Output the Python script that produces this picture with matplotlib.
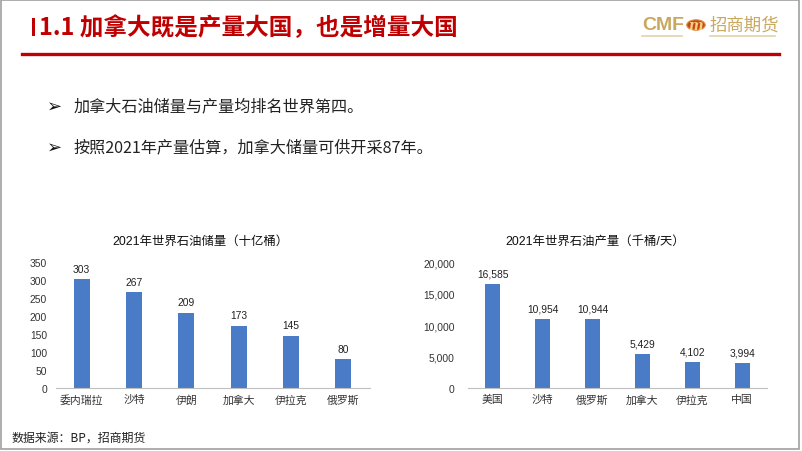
import matplotlib
matplotlib.use("Agg")
import matplotlib.pyplot as plt
from matplotlib.patches import Rectangle, Circle
from matplotlib.lines import Line2D

# ---- data ----
reserve_cats = ["委内瑞拉", "沙特", "伊朗", "加拿大", "伊拉克", "俄罗斯"]
reserve_vals = [303, 267, 209, 173, 145, 80]
reserve_ticks = [0, 50, 100, 150, 200, 250, 300, 350]

prod_cats = ["美国", "沙特", "俄罗斯", "加拿大", "伊拉克", "中国"]
prod_vals = [16585, 10954, 10944, 5429, 4102, 3994]
prod_ticks = [0, 5000, 10000, 15000, 20000]

title_text = "1.1 加拿大既是产量大国，也是增量大国"
bullets = ["加拿大石油储量与产量均排名世界第四。",
           "按照2021年产量估算，加拿大储量可供开采87年。"]
chart1_title = "2021年世界石油储量（十亿桶）"
chart2_title = "2021年世界石油产量（千桶/天）"
source_text = "数据来源：BP，招商期货"

W, H = 802, 452
CJK = ["Noto Sans CJK SC", "DejaVu Sans"]
NUM = ["Liberation Sans", "Noto Sans CJK SC", "DejaVu Sans"]
RED = "#C00000"
GOLD = "#C9A85F"
BAR = "#4A7BC6"

fig = plt.figure(figsize=(W / 100, H / 100), dpi=100)
fig.patch.set_facecolor("white")


def fx(x):
    return x / W


def fy(y):
    return 1 - y / H


# slide border
fig.add_artist(Rectangle((fx(1), fy(450)), fx(799) - fx(1), fy(1) - fy(450),
                         transform=fig.transFigure, fill=False,
                         edgecolor="#A0A0A0", linewidth=1.2))

# title bar + text
fig.add_artist(Rectangle((fx(32), fy(37)), fx(35) - fx(32), fy(19) - fy(37),
                         transform=fig.transFigure, facecolor=RED, edgecolor="none"))
fig.text(fx(39), fy(28), title_text, family=CJK, fontsize=17, fontweight="bold",
         color=RED, ha="left", va="center")
# red rule
fig.add_artist(Line2D([fx(22), fx(779)], [fy(55), fy(55)], transform=fig.transFigure,
                      color=RED, linewidth=2.4))

# logo
fig.text(fx(642), fy(26), "CMF", family=["Liberation Sans"], fontsize=14,
         fontweight="bold", color=GOLD, ha="left", va="center")
fig.add_artist(Circle((fx(696), fy(26)), 0.0115, transform=fig.transFigure,
                      facecolor="#C8461E", edgecolor="#E08A3C", linewidth=0.8))
fig.text(fx(696), fy(26.5), "m", family=["DejaVu Serif"], fontsize=10, fontstyle="italic",
         fontweight="bold", color="#F3D27A", ha="center", va="center")
fig.text(fx(710), fy(26), "招商期货", family=CJK, fontsize=12.5, color=GOLD,
         ha="left", va="center")
fig.add_artist(Line2D([fx(642), fx(682)], [fy(37), fy(37)], transform=fig.transFigure,
                      color="#E2D3AE", linewidth=1.2))
fig.add_artist(Line2D([fx(710), fx(775)], [fy(37), fy(37)], transform=fig.transFigure,
                      color="#E2D3AE", linewidth=1.2))

# bullets
for i, b in enumerate(bullets):
    yy = 107 + i * 41
    fig.text(fx(47), fy(yy), "➢", family=["DejaVu Sans"], fontsize=13,
             color="#111111", ha="left", va="center")
    fig.text(fx(74), fy(yy), b, family=CJK, fontsize=11.6, color="#222222",
             ha="left", va="center")

# source
fig.text(fx(12), fy(438), source_text, family=CJK, fontsize=8.6, color="#222222",
         ha="left", va="center")


def bar_chart(rect, cats, vals, ticks, fmt, pad, title, title_x):
    ax = fig.add_axes(rect)
    x = list(range(len(cats)))
    ax.bar(x, vals, width=0.3, color=BAR, zorder=2)
    ax.set_xlim(-0.5, len(cats) - 0.5)
    ax.set_ylim(ticks[0], ticks[-1])
    ax.set_yticks(ticks)
    ax.set_yticklabels([fmt(t) for t in ticks], family=NUM, fontsize=7.4, color="#333333")
    ax.set_xticks(x)
    ax.set_xticklabels(cats, family=CJK, fontsize=7.8, color="#333333")
    ax.tick_params(axis="y", length=0, pad=pad)
    ax.tick_params(axis="x", length=0, pad=4.5)
    for s in ["top", "right", "left"]:
        ax.spines[s].set_visible(False)
    ax.spines["bottom"].set_color("#BFBFBF")
    ax.spines["bottom"].set_linewidth(0.8)
    for xi, v in zip(x, vals):
        ax.annotate(fmt(v), (xi, v), xytext=(0, 4), textcoords="offset points",
                    ha="center", va="bottom", family=NUM, fontsize=7.4, color="#222222")
    ax.set_facecolor("none")
    fig.text(fx(title_x), fy(242), title, family=NUM, fontsize=8.9, color="#111111",
             ha="center", va="center")
    return ax


ybot, ytop = 389, 263.3
bar_chart([fx(55.5), fy(ybot), fx(369.5) - fx(55.5), fy(ytop) - fy(ybot)],
          reserve_cats, reserve_vals, reserve_ticks, lambda v: f"{v:d}", 6,
          chart1_title, 200)
bar_chart([fx(468), fy(ybot), fx(767) - fx(468), fy(ytop) - fy(ybot)],
          prod_cats, prod_vals, prod_ticks, lambda v: f"{v:,d}", 9.5,
          chart2_title, 595)

fig.savefig("out.png", dpi=100, facecolor="white")
